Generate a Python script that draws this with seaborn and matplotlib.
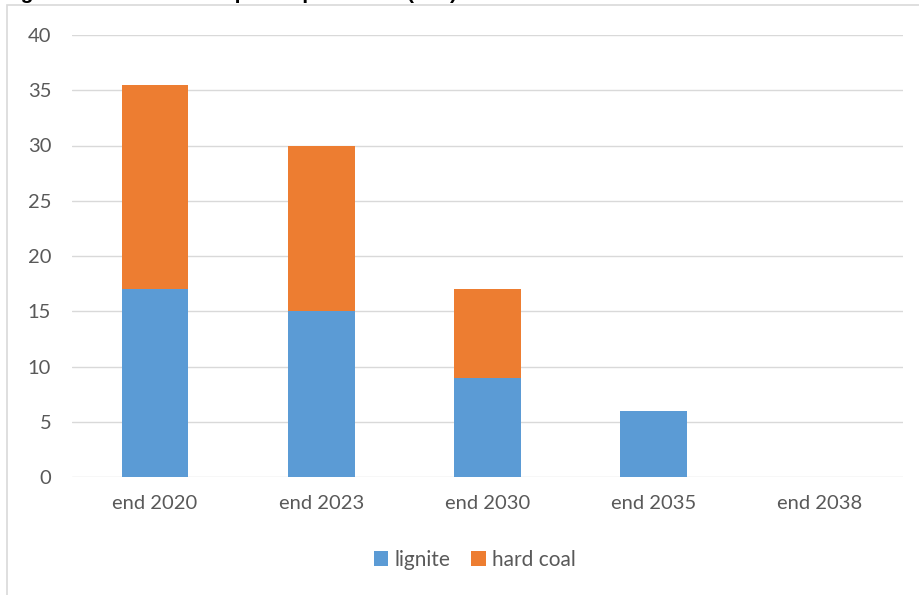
import numpy as np
import pandas as pd
import matplotlib.pyplot as plt
import matplotlib.patches as mpatches
import seaborn as sns

years = ["end 2020", "end 2023", "end 2030", "end 2035", "end 2038"]
lignite = [17, 15, 9, 6, 0]
hard_coal = [18.5, 15, 8, 0, 0]

data = pd.DataFrame({"year": years, "lignite": lignite, "hard coal": hard_coal})

sns.set_theme(style="white")
plt.rcParams["font.family"] = ["Lato", "DejaVu Sans"]

fig = plt.figure(figsize=(9.2, 5.95), dpi=100)
ax = fig.add_axes([72 / 920, 1 - 477 / 595, (903 - 72) / 920, (477 - 35) / 595])

sns.barplot(data=data, x="year", y="lignite", color="#5B9BD5", width=0.4,
            saturation=1, linewidth=0, label="lignite", ax=ax)
sns.barplot(data=data, x="year", y="hard coal", color="#ED7D31", width=0.4,
            saturation=1, linewidth=0, bottom=data["lignite"], label="hard coal", ax=ax)

ax.set_ylim(0, 40)
ax.set_xlim(-0.5, 4.5)
ax.set_yticks(range(0, 41, 5))
ax.yaxis.grid(True, color="#d9d9d9", linewidth=1)
ax.set_axisbelow(True)
ax.set_xlabel("")
ax.set_ylabel("")
for s in ax.spines.values():
    s.set_visible(False)
ax.tick_params(axis="both", length=0, labelsize=14.5, labelcolor="#595959")
ax.tick_params(axis="y", pad=15)
ax.tick_params(axis="x", pad=13)

ax.legend(loc="center", bbox_to_anchor=(475 / 920, 1 - 560 / 595),
          bbox_transform=fig.transFigure, ncol=2, frameon=False,
          handlelength=0.7, handleheight=0.7, handletextpad=0.3,
          columnspacing=1.0, fontsize=15, labelcolor="#595959")

# chart frame (cut at the right and bottom)
fig.patches.append(mpatches.Rectangle((7 / 920, -0.05), 1.0, 1 - 5 / 595 + 0.05,
                                      transform=fig.transFigure, fill=False,
                                      edgecolor="#d9d9d9", linewidth=1.2))

# title, mostly cut off above the image
fig.text(2 / 920, 1 + 1 / 595, "Figure 1: Installed coal power plants left (GW)",
         fontsize=15, fontweight="bold", color="black", va="baseline", ha="left",
         family=["Liberation Sans", "DejaVu Sans"])

fig.savefig("out.png", dpi=100)
